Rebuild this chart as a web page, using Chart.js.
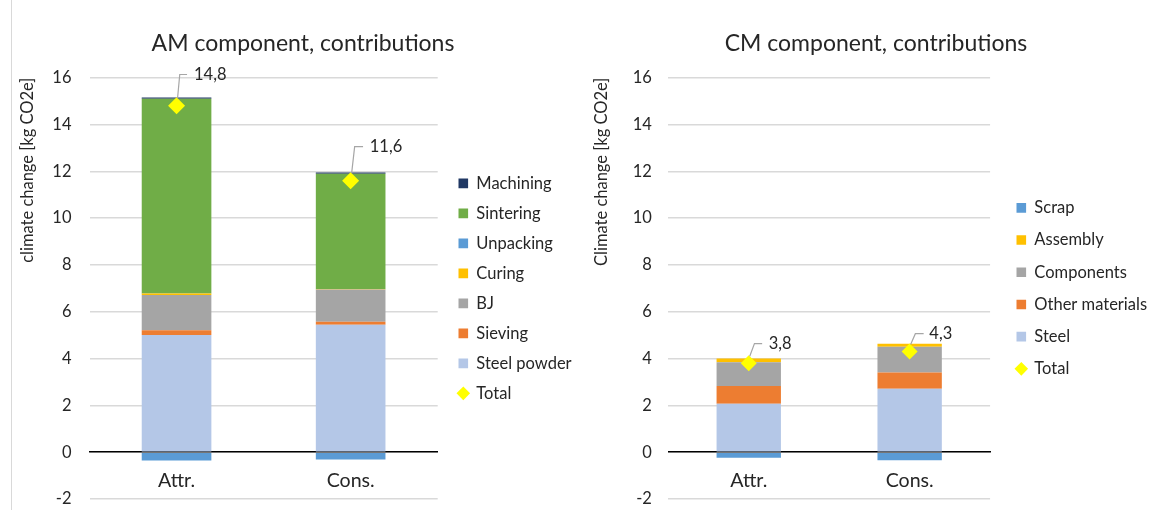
<!DOCTYPE html>
<html>
<head>
<meta charset="utf-8">
<script src="https://cdn.jsdelivr.net/npm/chart.js@4.4.1/dist/chart.umd.min.js"></script>
<style>
html, body { margin: 0; padding: 0; background: #ffffff; overflow: hidden; width: 1152px; height: 510px; }
#wrap { position: relative; width: 1152px; height: 510px; overflow: hidden; background: #ffffff; }
canvas { position: absolute; top: 0; }
#edge { position: absolute; left: 11px; top: 0; width: 1px; height: 510px; background: #D9D9D9; }
.ttl { position: absolute; top: 27px; width: 400px; text-align: center; font-family: Lato, sans-serif; font-size: 23px; line-height: 30px; color: #262626; white-space: nowrap; }
</style>
</head>
<body>
<div id="wrap">
  <div id="edge"></div>
  <canvas id="am"></canvas>
  <canvas id="cm"></canvas>
  <div class="ttl" style="left:103px">AM component, contributions</div>
  <div class="ttl" style="left:676px">CM component, contributions</div>
</div>
<script>
// ---------- data ----------
const categories = ['Attr.', 'Cons.'];
const yTickValues = [-2, 0, 2, 4, 6, 8, 10, 12, 14, 16];

// AM component (stack order bottom -> top)
const amSteelPowder = [5.01, 5.45];
const amSieving     = [0.20, 0.12];
const amBJ          = [1.51, 1.38];
const amCuring      = [0.06, 0.02];
const amUnpacking   = [-0.36, -0.31];
const amSintering   = [8.32, 4.93];
const amMachining   = [0.05, 0.05];
const amTotal       = [14.8, 11.6];

// CM component (stack order bottom -> top)
const cmSteel          = [2.07, 2.71];
const cmOtherMaterials = [0.76, 0.70];
const cmComponents     = [1.01, 1.09];
const cmAssembly       = [0.16, 0.13];
const cmScrap          = [-0.24, -0.34];
const cmTotal          = [3.8, 4.3];

// ---------- styles ----------
const FONT = 'Lato';
const TXT = '#262626';
const FS = 16.5;
const BOX = 9.6;

function bar(label, data, color) {
  return { type: 'bar', label, data, backgroundColor: color, borderWidth: 0,
           barPercentage: 0.4, categoryPercentage: 1.0, stack: 'parts', yAxisID: 'y', xAxisID: 'x' };
}
function total(data, r) {
  return { type: 'line', label: 'Total', data, showLine: false, pointStyle: 'rectRot',
           pointRadius: r, pointHoverRadius: r, pointBackgroundColor: '#FFFF00', backgroundColor: '#FFFF00',
           borderColor: '#FFFF00', pointBorderWidth: 0, borderWidth: 0, order: -1, stack: 'total',
           yAxisID: 'y', xAxisID: 'x' };
}
function fmt(v) { return v.toFixed(1).replace('.', ','); }

const totalLabels = {
  id: 'totalLabels',
  afterDatasetsDraw(chart, args, opts) {
    const ctx = chart.ctx;
    chart.data.datasets.forEach((ds, di) => {
      if (ds.type !== 'line') return;
      const meta = chart.getDatasetMeta(di);
      meta.data.forEach((pt, i) => {
        const o = opts.offsets[i];
        const x = pt.x, y = pt.y;
        ctx.save();
        ctx.strokeStyle = '#A6A6A6';
        ctx.lineWidth = 1.2;
        ctx.beginPath();
        ctx.moveTo(x + 1, y - opts.r + 1);
        ctx.lineTo(x + o.elbow, y + o.dy);
        ctx.lineTo(x + o.dx - o.gap, y + o.dy);
        ctx.stroke();
        ctx.fillStyle = TXT;
        ctx.font = FS + 'px ' + FONT;
        ctx.textAlign = 'left';
        ctx.textBaseline = 'middle';
        ctx.fillText(fmt(ds.data[i]), x + o.dx, y + o.dy);
        ctx.restore();
      });
    });
  }
};

function measureLegend(labels, pad) {
  const c = document.createElement('canvas').getContext('2d');
  c.font = FS + 'px ' + FONT;
  let m = 0;
  labels.forEach(t => { m = Math.max(m, c.measureText(t).width); });
  return pad + BOX + FS / 2 + m + 10;
}

function buildChart(id, p) {
  const legendLeft = p.itemX - p.pad;
  const gap = legendLeft - p.right;
  const lw = measureLegend(p.datasets.map(d => d.label), p.pad);
  const exact = legendLeft + lw - p.A;
  const W = Math.ceil(exact);
  const padR = W - exact;
  const canvas = document.getElementById(id);
  canvas.width = W; canvas.height = 510;
  canvas.style.left = p.A + 'px';
  canvas.style.width = W + 'px'; canvas.style.height = '510px';
  const yW = p.left - p.A;
  const pTop = p.yTitleX - p.A - FS * 1.2 / 2;

  new Chart(canvas, {
    type: 'bar',
    data: { labels: categories, datasets: p.datasets },
    plugins: [totalLabels],
    options: {
      responsive: false,
      animation: false,
      events: [],
      layout: { padding: { left: 0, right: padR, top: 77.7, bottom: 11 } },
      scales: {
        x: {
          type: 'category', stacked: true, position: { y: 0 }, z: 1, offset: true,
          grid: { display: false, drawTicks: false },
          border: { display: true, color: '#000000', width: 1.5 },
          ticks: { color: TXT, padding: 16.5, font: { family: FONT, size: 19.6 }, maxRotation: 0, autoSkip: false }
        },
        y: {
          type: 'linear', stacked: true, position: 'left', min: -2, max: 16,
          afterBuildTicks: s => { s.ticks = yTickValues.map(v => ({ value: v })); },
          afterFit: s => { s.width = yW; },
          grid: { color: '#D9D9D9', lineWidth: 1.5, drawTicks: true, tickLength: p.tickPad, tickColor: 'rgba(0,0,0,0)' },
          border: { display: false },
          ticks: { color: TXT, padding: 0, font: { family: FONT, size: FS } },
          title: { display: true, text: p.yTitle, align: 'end', color: TXT,
                   font: { family: FONT, size: FS }, padding: { top: pTop, bottom: 0 } }
        },
        gap: { type: 'linear', position: 'right', display: false, afterFit: s => { s.width = gap; } }
      },
      plugins: {
        title: { display: false },
        tooltip: { enabled: false },
        totalLabels: { offsets: p.offsets, r: p.r },
        legend: {
          display: true, position: 'right', align: 'center',
          labels: {
            usePointStyle: true, boxWidth: BOX, boxHeight: BOX, padding: p.pad, color: TXT,
            font: { family: FONT, size: FS },
            generateLabels(chart) {
              const items = Chart.defaults.plugins.legend.labels.generateLabels(chart);
              items.forEach(it => {
                const ds = chart.data.datasets[it.datasetIndex];
                it.pointStyle = ds.type === 'line' ? 'rectRot' : 'rect';
                it.lineWidth = 0;
                it.fontColor = TXT;
              });
              return items;
            },
            sort(a, b, data) {
              const key = it => data.datasets[it.datasetIndex].type === 'line' ? -1 : it.datasetIndex;
              return key(b) - key(a);
            }
          }
        }
      }
    }
  });
}

buildChart('am', {
  A: -60, left: 89.5, right: 437.7, itemX: 458.5, pad: 13.5, tickPad: 18, yTitleX: 27.7, r: 8.5,
  yTitle: 'climate change [kg CO2e]',
  datasets: [
    bar('Steel powder', amSteelPowder, '#B4C7E7'),
    bar('Sieving', amSieving, '#ED7D31'),
    bar('BJ', amBJ, '#A5A5A5'),
    bar('Curing', amCuring, '#FFC000'),
    bar('Unpacking', amUnpacking, '#5B9BD5'),
    bar('Sintering', amSintering, '#70AD47'),
    bar('Machining', amMachining, '#203864'),
    total(amTotal, 8.5)
  ],
  offsets: [ { dx: 17.5, dy: -31.3, elbow: 3.2, gap: 7 }, { dx: 19.1, dy: -34, elbow: 4, gap: 6.7 } ]
});

buildChart('cm', {
  A: 450, left: 668.3, right: 990.1, itemX: 1016.5, pad: 15.7, tickPad: 16.4, yTitleX: 601.2, r: 8,
  yTitle: 'Climate change [kg CO2e]',
  datasets: [
    bar('Steel', cmSteel, '#B4C7E7'),
    bar('Other materials', cmOtherMaterials, '#ED7D31'),
    bar('Components', cmComponents, '#A5A5A5'),
    bar('Assembly', cmAssembly, '#FFC000'),
    bar('Scrap', cmScrap, '#5B9BD5'),
    total(cmTotal, 8)
  ],
  offsets: [ { dx: 20, dy: -19.6, elbow: 5.7, gap: 6.6 }, { dx: 19.7, dy: -17.9, elbow: 5.7, gap: 5.7 } ]
});
</script>
</body>
</html>
